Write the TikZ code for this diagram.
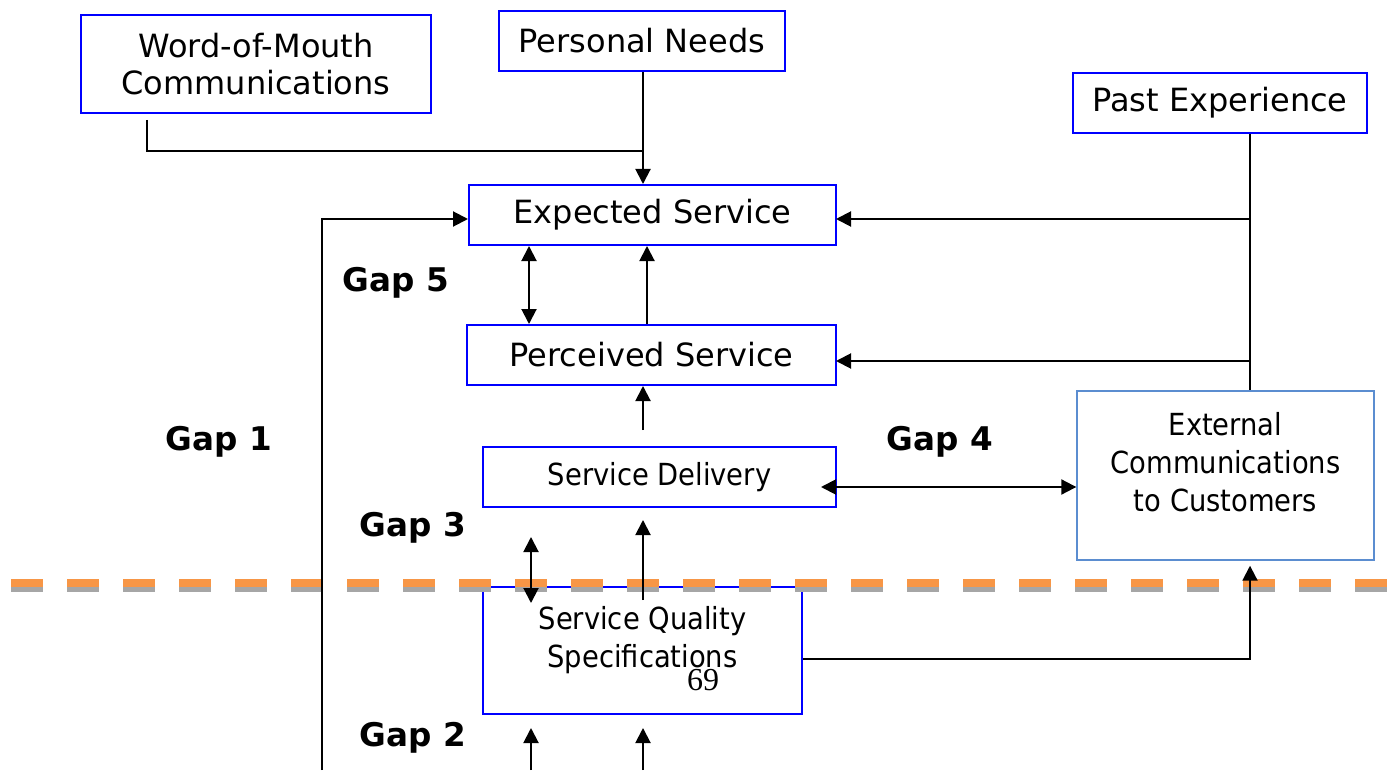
\documentclass[tikz,border=0pt]{standalone}
\usepackage{fontspec}
\setmainfont{DejaVu Sans}
\newfontfamily\narrowfont{DejaVu Sans Condensed}
\newfontfamily\pagefont{Liberation Serif}
\usetikzlibrary{arrows.meta}
\definecolor{boxblue}{RGB}{0,0,255}
\definecolor{extblue}{RGB}{91,141,208}
\definecolor{dashorange}{RGB}{247,150,70}
\definecolor{dashshadow}{RGB}{166,166,166}

\begin{document}
\begin{tikzpicture}[x=0.5pt,y=-0.5pt,
    box/.style={draw=boxblue, line width=1pt, inner sep=0pt, align=center,
      font=\fontsize{16}{18.5}\selectfont},
    arr/.style={line width=1pt, -{Triangle[length=7.5pt,width=7.5pt]}},
    dbl/.style={line width=1pt, {Triangle[length=7.5pt,width=7.5pt]}-{Triangle[length=7.5pt,width=7.5pt]}},
    gap/.style={font=\fontsize{16.3}{19}\selectfont\bfseries}]
  \useasboundingbox (0,0) rectangle (1390,770);

  % customer side
  \node[box, minimum width=175pt, minimum height=49pt] (wom) at (256,64)
    {Word-of-Mouth\\Communications};
  \node[box, minimum width=143pt, minimum height=30pt] (needs) at (642,41)
    {Personal Needs};
  \node[box, minimum width=147pt, minimum height=30pt] (past) at (1220,103)
    {Past Experience};
  \node[box, minimum width=183.5pt, minimum height=30pt] (expected) at (652.5,215)
    {Expected Service};
  \node[box, minimum width=184.5pt, minimum height=30pt] (perceived) at (651.5,355)
    {Perceived Service};

  % provider side
  \node[box, minimum width=176.5pt, minimum height=30pt,
    font=\narrowfont\fontsize{15.2}{18}\selectfont] (delivery) at (659.5,477)
    {Service Delivery};
  \node[draw=extblue, line width=0.7pt, minimum width=148.5pt, minimum height=84.5pt]
    (ext) at (1225.5,475.5) {};
  \node[align=center, font=\narrowfont\fontsize{15.2}{19}\selectfont] (extlabel)
    at (1225.5,462) {External\\Communications\\to Customers};
  \node[box, minimum width=159.5pt, minimum height=63.5pt] (spec) at (642.5,650.5) {};
  \node[align=center, font=\narrowfont\fontsize{15.2}{19}\selectfont] (speclabel)
    at (642.5,640) {Service Quality\\Specifications};
  \node[font=\pagefont\fontsize{16}{16}\selectfont] (pagenum) at (703,680) {69};

  % line between customer and provider
  \draw[dashshadow, line width=4pt, dash pattern=on 16pt off 12pt] (11,588) -- (1390,588);
  \draw[dashorange, line width=4pt, dash pattern=on 16pt off 12pt] (11,583) -- (1390,583);

  \node[gap] (gap5) at (396,283) {Gap 5};
  \node[gap] (gap1) at (219,442) {Gap 1};
  \node[gap] (gap4) at (940,442) {Gap 4};
  \node[gap] (gap3) at (413,528) {Gap 3};
  \node[gap] (gap2) at (413,738) {Gap 2};

  \coordinate (womfoot) at (147,120);
  \coordinate (trunk) at (1250,0);
  \coordinate (fbfoot) at (322,770);
  \coordinate (mid) at (643,0);

  \draw[line width=1pt] (womfoot) |- (needs.south |- 0,151);
  \draw[arr] (needs.south -| mid) -- (expected.north -| mid);
  \draw[arr] (fbfoot) |- (expected.west |- 0,219);
  \draw[line width=1pt] (past.south -| trunk) -- (ext.north -| trunk);
  \draw[arr] (expected.east -| trunk) ++(0,4) -- ++(-414,0);
  \draw[arr] (perceived.east -| trunk) ++(0,6) -- ++(-414,0);
  \draw[dbl] (expected.south -| 529,0) -- (perceived.north -| 529,0);
  \draw[arr] (perceived.north -| 647,0) -- (expected.south -| 647,0);
  \draw[arr] (mid |- 0,430) -- (perceived.south -| mid);
  \draw[dbl] (delivery.east |- 0,487) ++(-16,0) -- (ext.west |- 0,487);
  \draw[dbl] (531,537) -- (531,603);
  \draw[arr] (mid |- 0,600) -- (mid |- 0,520);
  \draw[arr] (spec.east |- 0,659) -| ([yshift=-2.5pt]ext.south -| trunk);
  \draw[arr] (531,770) -- (531,728);
  \draw[arr] (mid |- 0,770) -- (mid |- 0,728);
\end{tikzpicture}
\end{document}
